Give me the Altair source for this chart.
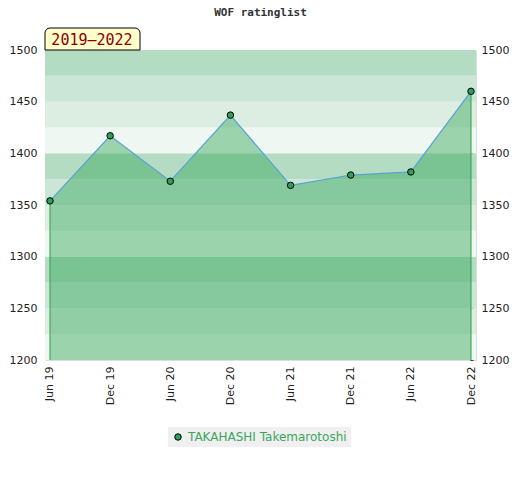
import altair as alt
import pandas as pd

# ---- data ----
periods = ["Jun 19", "Dec 19", "Jun 20", "Dec 20", "Jun 21", "Dec 21", "Jun 22", "Dec 22"]
ratings = [1354, 1417, 1373, 1437, 1369, 1379, 1382, 1460]
player = "TAKAHASHI Takemarotoshi"
badge_text = "2019\u20132022"
title_text = "WOF ratinglist"

band_lo = [1200, 1225, 1250, 1275, 1300, 1325, 1350, 1375, 1400, 1425, 1450, 1475]
band_shade = ["s0", "s1", "s2", "s3", "s0", "s1", "s2", "s3", "s0", "s1", "s2", "s3"]
shade_colors = ["#eef7f1", "#dcede2", "#cbe6d6", "#b3dcc2"]

y_min, y_max = 1200, 1500
W, H = 431, 310

df = pd.DataFrame({"period": periods, "rating": ratings, "player": [player] * len(periods)})
df["base"] = y_min
bands = pd.DataFrame({"lo": band_lo, "hi": [b + 25 for b in band_lo], "shade": band_shade})

yscale = alt.Scale(domain=[y_min, y_max], nice=False, zero=False)
xscale = alt.Scale(type="point", domain=periods, padding=0.083)

font = "DejaVu Sans"

band_layer = alt.Chart(bands).mark_rect().encode(
    x=alt.value(0), x2=alt.value(W),
    y=alt.Y("lo:Q", scale=yscale, title=None,
            axis=alt.Axis(orient="right", values=list(range(1200, 1501, 10)), format="d",
                          labelExpr="datum.value % 50 == 0 ? datum.label : ''",
                          domain=False, grid=False, tickSize=3, tickColor="#333",
                          offset=-6, labelPadding=8, labelFont=font, labelFontSize=11,
                          labelColor="#222")),
    y2="hi:Q",
    color=alt.Color("shade:N", scale=alt.Scale(domain=["s0", "s1", "s2", "s3"], range=shade_colors), legend=None),
)

base = alt.Chart(df)
x_enc = alt.X("period:N", scale=xscale, sort=periods, title=None,
              axis=alt.Axis(labelAngle=270, domain=False, ticks=False, labelPadding=6,
                            labelFont=font, labelFontSize=11, labelColor="#222"))
y_enc = alt.Y("rating:Q", scale=yscale, title=None,
              axis=alt.Axis(orient="left", values=[1200, 1250, 1300, 1350, 1400, 1450, 1500],
                            format="d", domain=False, ticks=False, grid=False, labelPadding=8,
                            labelFont=font, labelFontSize=11, labelColor="#222"))

area = base.mark_area(color="#36a75a", opacity=0.45).encode(x=x_enc, y=y_enc, y2="base:Q")
edges = base.transform_filter(
    alt.FieldOneOfPredicate(field="period", oneOf=[periods[0], periods[-1]])
).mark_rule(color="#2e9e50", strokeWidth=1).encode(x=x_enc, y=y_enc, y2="base:Q")
line = base.mark_line(color="#5aa0d8", strokeWidth=1.2).encode(x=x_enc, y=y_enc)
pts = base.mark_point(filled=True, size=42, stroke="black", strokeWidth=1, opacity=1).encode(
    x=x_enc, y=y_enc,
    fill=alt.Fill("player:N", scale=alt.Scale(domain=[player], range=["#2e9e5b"]),
                  legend=alt.Legend(title=None, orient="none", legendX=123, legendY=377,
                                    fillColor="#f0f0f0", padding=4, labelColor="#3aa55d",
                                    labelFont=font, labelFontSize=12, symbolType="circle",
                                    symbolSize=42, symbolStrokeColor="black",
                                    symbolStrokeWidth=1, symbolFillColor="#2e9e5b")),
)

badge_box = alt.Chart(df).transform_filter(
    alt.FieldEqualPredicate(field="period", equal=periods[0])
).mark_rect(fill="#ffffcc", stroke="black", strokeWidth=1, clip=False,
            cornerRadiusTopLeft=5, cornerRadiusTopRight=5).encode(
    x=alt.value(0), x2=alt.value(95), y=alt.value(-22), y2=alt.value(0))
badge_txt = alt.Chart(df).transform_filter(
    alt.FieldEqualPredicate(field="period", equal=periods[0])
).mark_text(text=badge_text, font="DejaVu Sans Mono", fontSize=15, color="#8b0000",
            align="center", baseline="middle", clip=False).encode(
    x=alt.value(47), y=alt.value(-10))

front = alt.layer(area, edges, line, pts, badge_box, badge_txt)

chart = alt.layer(band_layer, front).resolve_scale(y="independent").properties(
    width=W, height=H,
    title=alt.TitleParams(title_text, font="DejaVu Sans Mono", fontSize=11, fontWeight="bold",
                          color="#333", anchor="middle", frame="group", offset=10),
    autosize=alt.AutoSizeParams(type="none"),
    padding={"left": 37, "top": 42, "right": 35, "bottom": 90},
).configure_view(stroke="#d3d3d3", strokeWidth=1).configure(background="white")

chart.save("out.html", embed_options={"renderer": "svg", "actions": False})
